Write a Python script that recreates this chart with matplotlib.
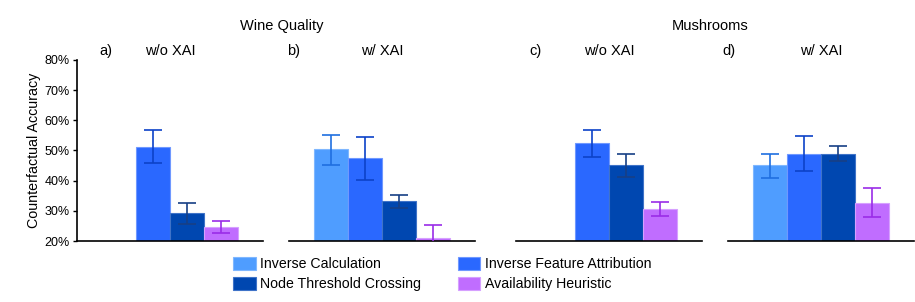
import matplotlib
matplotlib.use("Agg")
import matplotlib.pyplot as plt
import numpy as np
from matplotlib.patches import Patch

plt.rcParams['font.family'] = ['Liberation Sans', 'DejaVu Sans']

methods = ["Inverse Calculation", "Inverse Feature Attribution",
           "Node Threshold Crossing", "Availability Heuristic"]
bar_colors = ["#4f9dff", "#2a68ff", "#0047b0", "#c06dff"]
err_colors = ["#1f6fe0", "#0c42c8", "#173f85", "#9a2ce8"]
edge_colors = ["#7fb7ff", "#6f98ff", "#3f73c8", "#d6a0ff"]

panel_letters = ["a)", "b)", "c)", "d)"]
panel_titles = ["w/o XAI", "w/ XAI", "w/o XAI", "w/ XAI"]
datasets = ["Wine Quality", "Mushrooms"]

# values in % (NaN = not shown)
means = [
    [np.nan, 51.3, 29.4, 24.7],
    [50.4, 47.4, 33.3, 20.9],
    [np.nan, 52.4, 45.2, 30.7],
    [45.1, 49.0, 49.0, 32.7],
]
err_hi = [
    [np.nan, 56.8, 32.7, 26.6],
    [55.2, 54.6, 35.3, 25.4],
    [np.nan, 56.8, 48.9, 32.9],
    [48.9, 54.8, 51.5, 37.7],
]
err_lo = [
    [np.nan, 45.8, 25.5, 22.5],
    [45.2, 40.1, 30.8, 16.4],
    [np.nan, 47.8, 41.2, 28.4],
    [40.9, 43.1, 46.5, 27.8],
]

W, H = 915, 302
fig = plt.figure(figsize=(W / 100, H / 100), dpi=100)

ax_left_px = [77, 289, 516, 728]
ax_w_px = 186
bottom = 1 - 241 / H
height = (241 - 60) / H

x = np.arange(len(methods))
for i in range(4):
    ax = fig.add_axes([ax_left_px[i] / W, bottom, ax_w_px / W, height])
    for j in range(len(methods)):
        m = means[i][j]
        if np.isnan(m):
            continue
        ax.bar(x[j], m - 20, bottom=20, width=1.0, color=bar_colors[j],
               edgecolor=edge_colors[j], linewidth=0.8, zorder=2)
        ax.errorbar(x[j], m, yerr=[[m - err_lo[i][j]], [err_hi[i][j] - m]],
                    fmt="none", ecolor=err_colors[j], elinewidth=1.2,
                    capsize=6.5, capthick=1.2, zorder=3)
    ax.set_xlim(-1.255, 4.255)
    ax.set_ylim(20, 80)
    ax.set_xticks([])
    for s in ["top", "right"]:
        ax.spines[s].set_visible(False)
    ax.spines["bottom"].set_linewidth(1.2)
    if i == 0:
        ax.set_yticks(np.arange(20, 81, 10))
        ax.set_yticklabels([f"{v}%" for v in range(20, 81, 10)], fontsize=9)
        ax.tick_params(axis="y", length=3, width=1, pad=2)
        ax.spines["left"].set_linewidth(1.2)
        ax.set_ylabel("Counterfactual Accuracy", fontsize=10.3, labelpad=3)
    else:
        ax.spines["left"].set_visible(False)
        ax.set_yticks([])
    # panel title centred over the axes
    cx = (ax_left_px[i] + ax_w_px / 2) / W
    fig.text(cx, 1 - 51 / H, panel_titles[i], ha="center", va="center", fontsize=10.5)

# panel letters
letter_x = [106, 294, 536, 729]
for i, lx in enumerate(letter_x):
    fig.text(lx / W, 1 - 51 / H, panel_letters[i], ha="center", va="center", fontsize=10.5)

# dataset titles
fig.text(282 / W, 1 - 26 / H, datasets[0], ha="center", va="center", fontsize=10.5)
fig.text(710 / W, 1 - 26 / H, datasets[1], ha="center", va="center", fontsize=10.5)

handles = [Patch(facecolor=bar_colors[k], edgecolor=edge_colors[k], linewidth=0.8,
                 label=methods[k]) for k in [0, 2, 1, 3]]
fig.legend(handles=handles, ncol=2, loc="center", bbox_to_anchor=(442 / W, 1 - 274 / H),
           frameon=False, fontsize=10.2, handlelength=1.6, handleheight=1.0,
           handletextpad=0.3, columnspacing=2.6, labelspacing=0.4)

fig.savefig("out.png", dpi=100)
